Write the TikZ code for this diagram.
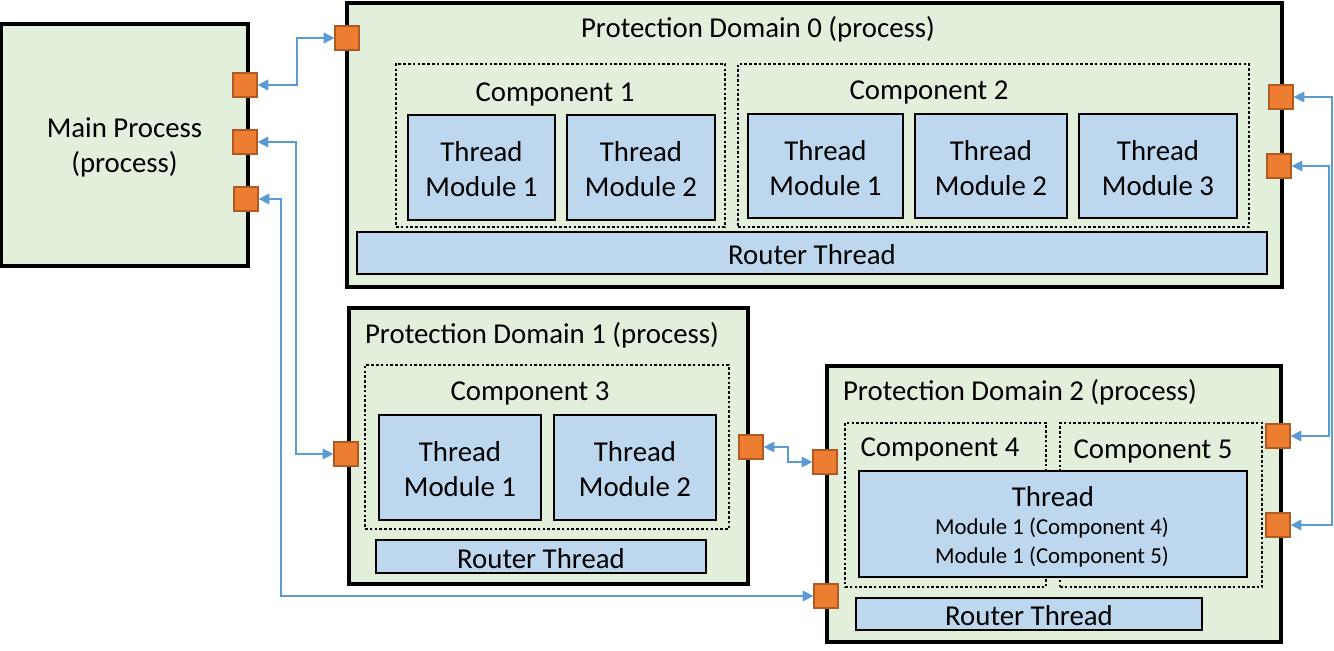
\documentclass[tikz,border=0pt]{standalone}
\usepackage{fontspec}
\setmainfont{Carlito}
\usetikzlibrary{fit,arrows.meta,calc}
\definecolor{pdgreen}{HTML}{E2EFDA}
\definecolor{thrblue}{HTML}{BDD7EE}
\definecolor{portfill}{HTML}{ED7D31}
\definecolor{portline}{HTML}{AE5A21}
\definecolor{connblue}{HTML}{5B9BD5}
\newcommand\mainsz{\fontsize{21.6}{26.25}\selectfont}
\newcommand\smallsz{\fontsize{17.1}{21.75}\selectfont}
\begin{document}
\begin{tikzpicture}[x=0.75pt,y=-0.75pt,
 every node/.style={font=\mainsz},
 pd/.style={draw=black, line width=2.4pt, fill=pdgreen, inner sep=0},
 comp/.style={draw=black, line width=2pt, dash pattern=on 2pt off 1.6pt, inner sep=0},
 thr/.style={draw=black, line width=1.4pt, fill=thrblue, inner sep=0},
 txt/.style={label={[align=center, inner sep=0, font=\mainsz, yshift=-1.5pt]center:#1}},
 port/.style={draw=portline, fill=portfill, line width=1.4pt, minimum size=17.5pt, inner sep=0},
 conn/.style={draw=connblue, line width=0.8pt, {Triangle[length=8pt,width=8pt]}-{Triangle[length=8pt,width=8pt]}},
 lbl/.style={anchor=base, inner sep=0}
]
\useasboundingbox (0,0) rectangle (1334,650);

% Main process
\node[pd, fit={(1,24) (248,266)}, txt={Main Process\\(process)}] (main) {};

% Protection Domain 0
\node[pd, fit={(347,3) (1282,287)}] (pd0) {};
\node[lbl] (pd0t) at (758,37) {Protection Domain 0 (process)};
\node[comp, fit={(396,64) (725,227)}] (c1) {};
\node[lbl] (c1t) at (555,101) {Component 1};
\node[thr, fit={(408,115) (555,220)}, txt={Thread\\Module 1}] (c1m1) {};
\node[thr, fit={(567,115) (715,220)}, txt={Thread\\Module 2}] (c1m2) {};
\node[comp, fit={(738,64) (1249,227)}] (c2) {};
\node[lbl] (c2t) at (929,99) {Component 2};
\node[thr, fit={(748,114) (903,218)}, txt={Thread\\Module 1}] (c2m1) {};
\node[thr, fit={(915,114) (1067,218)}, txt={Thread\\Module 2}] (c2m2) {};
\node[thr, fit={(1079,114) (1237,218)}, txt={Thread\\Module 3}] (c2m3) {};
\node[thr, fit={(357,232) (1267,274)}, txt={Router Thread}] (r0) {};

% Protection Domain 1
\node[pd, fit={(349,308) (748,584)}] (pd1) {};
\node[lbl] (pd1t) at (542,343) {Protection Domain 1 (process)};
\node[comp, fit={(365,365) (729,529)}] (c3) {};
\node[lbl] (c3t) at (530,400) {Component 3};
\node[thr, fit={(379,415) (541,520)}, txt={Thread\\Module 1}] (c3m1) {};
\node[thr, fit={(554,415) (716,520)}, txt={Thread\\Module 2}] (c3m2) {};
\node[thr, fit={(376,540) (706,573)}, txt={Router Thread}] (r1) {};

% Protection Domain 2
\node[pd, fit={(827,366) (1281,642)}] (pd2) {};
\node[lbl] (pd2t) at (1020,400) {Protection Domain 2 (process)};
\node[comp, fit={(845,423) (1046,587)}] (c4) {};
\node[lbl] (c4t) at (940,456) {Component 4};
\node[comp, fit={(1060,423) (1262,587)}] (c5) {};
\node[lbl] (c5t) at (1153,458) {Component 5};
\node[thr, fit={(859,471) (1247,577)}] (t45) {};
\node[lbl] (t45a) at (1053,506) {Thread};
\node[lbl, font=\smallsz] (t45b) at (1052,534) {Module 1 (Component 4)};
\node[lbl, font=\smallsz] (t45c) at (1052,563) {Module 1 (Component 5)};
\node[thr, fit={(856,598) (1202,630)}, txt={Router Thread}] (r2) {};

% Ports
\node[port] (mp1) at (245,85) {};
\node[port] (mp2) at (245,142) {};
\node[port] (mp3) at (246,199) {};
\node[port] (pd0in) at (347,38) {};
\node[port] (pd0o1) at (1281,97) {};
\node[port] (pd0o2) at (1279,166) {};
\node[port] (pd1in) at (346,454) {};
\node[port] (pd1out) at (751,447) {};
\node[port] (pd2in1) at (825,462) {};
\node[port] (pd2in2) at (826,596) {};
\node[port] (pd2o1) at (1278,436) {};
\node[port] (pd2o2) at (1278,525) {};

% Connector bend lines
\coordinate (x1) at (297,0);
\coordinate (x2) at (296,0);
\coordinate (x3) at (281,0);
\coordinate (x4) at (788,0);
\coordinate (x5) at (1332,0);
\coordinate (x6) at (1329,0);

\draw[conn, line width=1.3pt] (mp1.east) -- (mp1.east -| x1) |- (pd0in.west);
\draw[conn] (mp2.east) -- (mp2.east -| x2) |- (pd1in.west);
\draw[conn] (mp3.east) -- (mp3.east -| x3) |- (pd2in2.west);
\draw[conn] (pd1out.east) -- (pd1out.east -| x4) |- (pd2in1.west);
\draw[conn] (pd0o1.east) -- (pd0o1.east -| x5) |- (pd2o2.east);
\draw[conn] (pd0o2.east) -- (pd0o2.east -| x6) |- (pd2o1.east);
\end{tikzpicture}
\end{document}
